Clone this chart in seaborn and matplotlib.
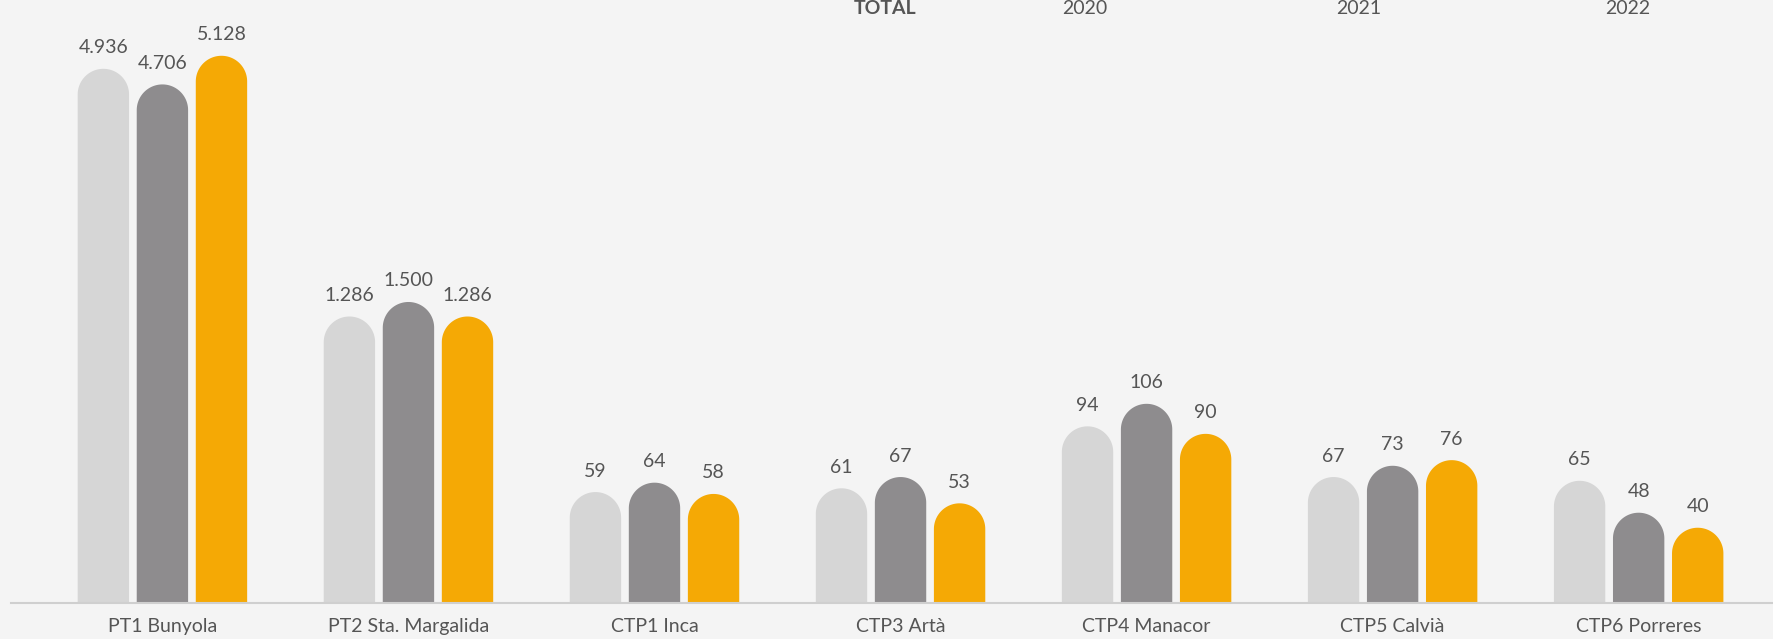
import numpy as np
import pandas as pd
import seaborn as sns
import matplotlib.pyplot as plt
from matplotlib.patches import Polygon

# data
plants = ['PT1 Bunyola', 'PT2 Sta. Margalida', 'CTP1 Inca', 'CTP3 Artà',
          'CTP4 Manacor', 'CTP5 Calvià', 'CTP6 Porreres']
years = ['2020', '2021', '2022']
vals_2020 = [4936, 1286, 59, 61, 94, 67, 65]
vals_2021 = [4706, 1500, 64, 67, 106, 73, 48]
vals_2022 = [5128, 1286, 58, 53, 90, 76, 40]
colors = ['#d6d6d6', '#8e8c8e', '#f5a905']

df = pd.DataFrame({
    'plant': plants * 3,
    'year': [y for y in years for _ in plants],
    'value': vals_2020 + vals_2021 + vals_2022,
})


# broken-ish scale: small values get stretched, large values compressed
def fwd(v):
    v = np.asarray(v, dtype=float)
    return np.where(v <= 110, 1.66 * v, 182.6 + 0.06 * (v - 110))


def inv(s):
    s = np.asarray(s, dtype=float)
    return np.where(s <= 182.6, s / 1.66, 110 + (s - 182.6) / 0.06)


sns.set_style('white')
plt.rcParams['font.family'] = ['Lato', 'DejaVu Sans']
bg = '#f4f4f4'
txt = '#555555'

fig = plt.figure(figsize=(17.73, 6.39), dpi=100, facecolor=bg)
ax = fig.add_axes([0.0064, 0.0566, 0.9936, 0.9434], facecolor=bg)

sns.barplot(data=df, x='plant', y='value', hue='year', palette=colors,
            width=0.72, gap=0.13, legend=False, ax=ax, linewidth=0,
            saturation=1)

ax.set_yscale('function', functions=(fwd, inv))
ax.set_xlim(-0.614, 6.546)
top_s = 533.0
ax.set_ylim(0, float(inv(top_s)))

# rebuild each bar with a rounded top (drawn in scaled coords)
fig.canvas.draw()
ax_h_px = ax.get_window_extent().height
sc = ax.transLimits + ax.transAxes
ang = np.linspace(np.pi, 0, 60)
for p in list(ax.patches):
    v = p.get_height()
    if v <= 0:
        continue
    x0 = p.get_x()
    w = p.get_width()
    w_px = ax.transData.transform((x0 + w, 0))[0] - ax.transData.transform((x0, 0))[0]
    r_s = (w_px / 2) * top_s / ax_h_px
    t_s = float(fwd(v))
    cx = x0 + w / 2
    arc = np.column_stack([cx + (w / 2) * np.cos(ang),
                           (t_s - r_s) + r_s * np.sin(ang)])
    pts = np.vstack([[x0, 0], arc, [x0 + w, 0]])
    ax.add_patch(Polygon(pts, closed=True, facecolor=p.get_facecolor(),
                         linewidth=0, transform=sc))
    p.set_visible(False)
    lbl = f'{v:,.0f}'.replace(',', '.')
    ax.annotate(lbl, xy=(cx, v), xytext=(0, 21),
                textcoords='offset pixels', ha='center', va='center',
                fontsize=14, color=txt)

for s in ['top', 'right', 'left']:
    ax.spines[s].set_visible(False)
ax.spines['bottom'].set_color('#cfcfcf')
ax.spines['bottom'].set_linewidth(1.5)
ax.set_yticks([])
ax.set_xlabel('')
ax.set_ylabel('')
ax.tick_params(axis='x', length=0, pad=11, labelsize=14, labelcolor=txt)

# legend header (partly cut off at the top)
fig.text(885 / 1773, 630 / 639, 'TOTAL', ha='center', va='center',
         fontsize=14, fontweight='bold', color=txt)
for xp, y in zip([1085, 1359, 1628], years):
    fig.text(xp / 1773, 630 / 639, y, ha='center', va='center',
             fontsize=14, color=txt)

fig.savefig('out.png', dpi=100, facecolor=bg)
